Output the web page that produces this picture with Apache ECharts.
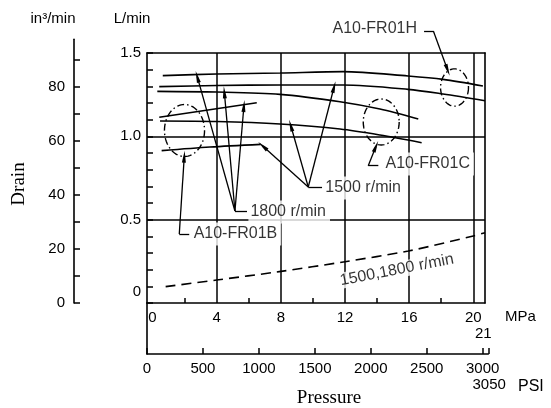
<!DOCTYPE html>
<html><head><meta charset="utf-8">
<script src="https://cdn.jsdelivr.net/npm/echarts@6/dist/echarts.min.js"></script>
<style>html,body{margin:0;padding:0;background:#fff}#c{width:551px;height:408px}</style>
</head><body><div id="c"></div>
<script>
// ---------- data (x: MPa, y: L/min) ----------
const curve1800a = [[0.64,1.364],[4.0,1.374],[7.95,1.380],[11.88,1.388],[15.93,1.362],[18.11,1.342],[20.6,1.302]];
const curve1500a = [[0.42,1.298],[4.0,1.305],[7.95,1.308],[11.88,1.308],[15.93,1.282],[18.11,1.254],[20.73,1.214]];
const curve1800b = [[0.3,1.270],[4.0,1.266],[7.95,1.252],[11.69,1.208],[14.18,1.164],[16.57,1.104]];
const curve1500b = [[0.47,1.092],[4.02,1.089],[7.95,1.074],[11.69,1.044],[14.18,1.008],[16.78,0.962]];
const curve1800c = [[0.42,1.114],[6.5,1.202]];
const curve1500c = [[0.57,0.914],[3.58,0.936],[6.75,0.952]];
const drainDashed = [[0.82,0.098],[4.0,0.138],[7.9,0.188],[12.0,0.248],[15.95,0.312],[20.0,0.402],[20.73,0.422]];

// ellipses: [centerMPa, centerLmin, radiusMPa, radiusLmin]
const ellipseB = [1.995, 1.035, 1.25, 0.156];
const ellipseC = [14.26, 1.086, 1.12, 0.138];
const ellipseH = [18.83, 1.293, 0.87, 0.112];

// leader polylines (arrow at last point)
const leaderH = [[16.93,1.632],[17.51,1.632],[18.40,1.398]];
const leaderC = [[14.08,0.824],[13.45,0.824],[13.93,0.939]];
const leader1500a = [[10.57,0.696],[9.71,0.696],[6.87,0.942]];
const leader1500b = [[9.71,0.696],[8.62,1.065]];
const leader1500c = [[9.71,0.696],[11.32,1.296]];
const leader1800a = [[5.89,0.552],[5.14,0.552],[2.79,1.358]];
const leader1800b = [[5.14,0.552],[4.48,1.264]];
const leader1800c = [[5.14,0.552],[5.70,1.182]];
const leaderB = [[2.29,0.414],[1.67,0.414],[1.98,0.878]];

// annotation texts and their anchors
const annotTexts = ['A10-FR01H','A10-FR01C','1500 r/min','1800 r/min','A10-FR01B'];
const annotX = [11.1, 14.4, 10.65, 5.98, 2.44];
const annotY = [1.644, 0.834, 0.690, 0.546, 0.414];
const dashedText = '1500,1800 r/min';
const dashedTextPos = [15.24, 0.198];

// tick labels
const lpmTickValues = [0.1, 0.5, 1.0, 1.5];
const lpmTickLabels = ['0', '0.5', '1.0', '1.5'];
const in3TickValues = [0,10,20,30,40,50,60,70,80,90];
const in3LabelValues = [0,20,40,60,80];
const mpaMinorTicks = [2,6,10,14,18];
const mpaLabelValues = [0,4,8,12,16,20];
const mpaMax = 20.73, mpaMaxLabel = '21';
const psiMax = 3050, psiMaxLabel = '3050';
const in3Max = 97.7;
const lpmMax = 1.5, dataTop = 1.698;

// ---------- chart ----------
const SANS = '"Liberation Sans", Arial, sans-serif';
const SERIF = '"Liberation Serif", "Times New Roman", serif';
const BLK = '#000';
const line = (w) => ({show:true, onZero:false, lineStyle:{color:BLK, width:w}});
const none = {show:false};
const g = (o) => Object.assign({outerBoundsMode:'none', containLabel:false}, o);

function segs(pts){
  const out = [];
  for (let i = 0; i < pts.length - 1; i++) {
    const last = i === pts.length - 2;
    out.push([{coord: pts[i], symbol:'none'},
              {coord: pts[i+1], symbol: last ? 'triangle' : 'none', symbolSize: last ? [4,12] : 0}]);
  }
  return out;
}
const leaders = [leaderH, leaderC, leader1500a, leader1500b, leader1500c, leader1800a, leader1800b, leader1800c, leaderB];

const curveSeries = [curve1800a, curve1500a, curve1800b, curve1500b, curve1800c, curve1500c].map(d => ({
  type:'line', xAxisIndex:2, yAxisIndex:2, data:d, showSymbol:false, smooth:0.3, silent:true,
  lineStyle:{color:BLK, width:1.6}
}));

const option = {
  animation:false,
  backgroundColor:'#fff',
  textStyle:{fontFamily:SANS, color:BLK},
  grid:[
    g({left:147, top:53, width:338, height:250}),
    g({left:152.5, top:20, width:332.5, height:283}),
    g({left:74, top:39.3, width:20, height:263.7}),
    g({left:147, top:303, width:341.3, height:51}),
    g({left:152.5, top:53, width:332.5, height:250})
  ],
  xAxis:[
    {gridIndex:0, type:'value', min:0, max:1, position:'bottom', axisLine:line(1.6), axisTick:none, axisLabel:none, splitLine:none},
    {gridIndex:0, type:'value', min:0, max:1, position:'top', axisLine:line(1.6), axisTick:none, axisLabel:none, splitLine:none},
    {gridIndex:1, type:'value', min:0, max:mpaMax, interval:2, position:'bottom', axisLine:{show:false, onZero:false},
      axisTick:{show:true, inside:true, length:5, customValues:mpaMinorTicks, lineStyle:{color:BLK, width:1.5}},
      axisLabel:{show:true, margin:7, fontSize:15, color:BLK, fontFamily:SANS, lineHeight:16, customValues:mpaLabelValues,
        formatter:(v)=> v===mpaLabelValues[mpaLabelValues.length-1] ? v+'\n{s|'+mpaMaxLabel+'}' : (mpaLabelValues.indexOf(v)>=0 ? String(v) : ''),
        rich:{s:{padding:[0,0,0,20], fontSize:15, lineHeight:16, fontFamily:SANS, color:BLK}}},
      splitLine:none},
    {gridIndex:2, type:'value', min:0, max:1, show:false},
    {gridIndex:3, type:'value', min:0, max:psiMax, interval:500, position:'bottom', axisLine:line(1.6),
      axisTick:{show:true, inside:true, length:6, lineStyle:{color:BLK, width:1.5}},
      axisLabel:{show:true, margin:7, fontSize:15, color:BLK, fontFamily:SANS, lineHeight:16,
        formatter:(v)=> v===psiMax ? '' : (v===3000 ? v+'\n{s|'+psiMaxLabel+'}' : String(v)),
        rich:{s:{padding:[0,0,0,13], fontSize:15, lineHeight:16, fontFamily:SANS, color:BLK}}},
      splitLine:none},
    {gridIndex:4, type:'value', min:0, max:mpaMax, interval:4, axisLine:{show:false, onZero:false}, axisTick:none, axisLabel:none,
      splitLine:{show:true, showMinLine:false, showMaxLine:false, lineStyle:{color:BLK, width:1.5}}}
  ],
  yAxis:[
    {gridIndex:0, type:'value', min:0, max:lpmMax, interval:0.1, position:'left', axisLine:line(1.6),
      axisTick:{show:true, inside:true, length:6, lineStyle:{color:BLK, width:1.5}},
      axisLabel:{show:true, margin:6, fontSize:15, color:BLK, fontFamily:SANS, showMinLabel:true, showMaxLabel:true,
        formatter:(v)=>{ const i = lpmTickValues.findIndex(t=>Math.abs(t-v)<1e-6); if(i<0) return ''; return i===0 ? '{z|'+lpmTickLabels[i]+'}' : lpmTickLabels[i]; },
        rich:{z:{padding:[12,0,0,0], fontSize:15, fontFamily:SANS, color:BLK}}},
      splitLine:none},
    {gridIndex:0, type:'value', min:0, max:1, position:'right', axisLine:line(1.6), axisTick:none, axisLabel:none, splitLine:none},
    {gridIndex:1, type:'value', min:0, max:dataTop, show:false},
    {gridIndex:2, type:'value', min:0, max:in3Max, interval:10, position:'left', axisLine:line(1.6),
      axisTick:{show:true, inside:true, length:6, customValues:in3TickValues, lineStyle:{color:BLK, width:1.5}},
      axisLabel:{show:true, margin:9, fontSize:15, color:BLK, fontFamily:SANS, customValues:in3LabelValues,
        formatter:(v)=> in3LabelValues.indexOf(v)>=0 ? String(v) : ''},
      splitLine:none},
    {gridIndex:3, type:'value', min:0, max:1, position:'left', axisLine:line(1.6), axisTick:none, axisLabel:none, splitLine:none},
    {gridIndex:4, type:'value', min:0, max:1, show:false}
  ],
  graphic:[
    {type:'text', x:53, y:19, style:{text:'in³/min', font:'15px '+SANS, fill:BLK, textAlign:'center', textVerticalAlign:'middle'}},
    {type:'text', x:132, y:19, style:{text:'L/min', font:'15px '+SANS, fill:BLK, textAlign:'center', textVerticalAlign:'middle'}},
    {type:'text', x:19, y:184, rotation:Math.PI/2, style:{text:'Drain', font:'19px '+SERIF, fill:BLK, textAlign:'center', textVerticalAlign:'middle'}},
    {type:'text', x:329, y:398, style:{text:'Pressure', font:'19px '+SERIF, fill:BLK, textAlign:'center', textVerticalAlign:'middle'}},
    {type:'text', x:505, y:317, style:{text:'MPa', font:'15px '+SANS, fill:BLK, textAlign:'left', textVerticalAlign:'middle'}},
    {type:'text', x:518, y:387, style:{text:'PSI', font:'16px '+SANS, fill:BLK, textAlign:'left', textVerticalAlign:'middle'}}
  ],
  series:[
    {type:'line', xAxisIndex:0, yAxisIndex:0, data:[], silent:true,
      markLine:{silent:true, symbol:['none','none'], label:{show:false}, lineStyle:{color:BLK, type:'solid', width:1.5},
        data:[{yAxis:1.0},{yAxis:0.5}]}},
    ...curveSeries,
    {type:'line', xAxisIndex:2, yAxisIndex:2, data:drainDashed, showSymbol:false, smooth:0.3, silent:true,
      lineStyle:{color:BLK, width:1.6, type:[10,6]}},
    {type:'custom', xAxisIndex:2, yAxisIndex:2, silent:true, data:[ellipseB, ellipseC, ellipseH],
      renderItem:(params, api)=>{
        const c = api.coord([api.value(0), api.value(1)]);
        const s = api.size([api.value(2), api.value(3)]);
        const pts = [];
        for (let i=0;i<=72;i++){ const t=i/72*2*Math.PI; pts.push([c[0]+s[0]*Math.cos(t), c[1]+s[1]*Math.sin(t)]); }
        return {type:'polyline', shape:{points:pts}, style:{fill:null, stroke:BLK, lineWidth:1.4, lineDash:[7,3,1.5,3]}};
      }},
    {type:'line', xAxisIndex:2, yAxisIndex:2, data:[], silent:true,
      markLine:{silent:true, symbol:['none','none'], label:{show:false}, lineStyle:{color:BLK, type:'solid', width:1.3},
        data:[].concat(...leaders.map(segs))}},
    {type:'scatter', xAxisIndex:2, yAxisIndex:2, symbolSize:0, silent:true, clip:false, z:10,
      data: annotTexts.map((t,i)=>({name:t, value:[annotX[i], annotY[i]]})),
      label:{show:true, position:'right', distance:0, formatter:(p)=>p.name, color:BLK, fontSize:16, fontFamily:SANS,
        backgroundColor:'#fff', padding:[4,4,3,2]}},
    {type:'scatter', xAxisIndex:2, yAxisIndex:2, symbolSize:0, silent:true, clip:false, z:10,
      data:[{name:dashedText, value:dashedTextPos}],
      label:{show:true, position:'inside', rotate:11, formatter:(p)=>p.name, color:BLK, fontSize:16, fontFamily:SANS,
        backgroundColor:'#fff', padding:[0,1]}}
  ]
};
const chart = echarts.init(document.getElementById('c'), null, {renderer:'canvas'});
chart.setOption(option);
</script></body></html>
